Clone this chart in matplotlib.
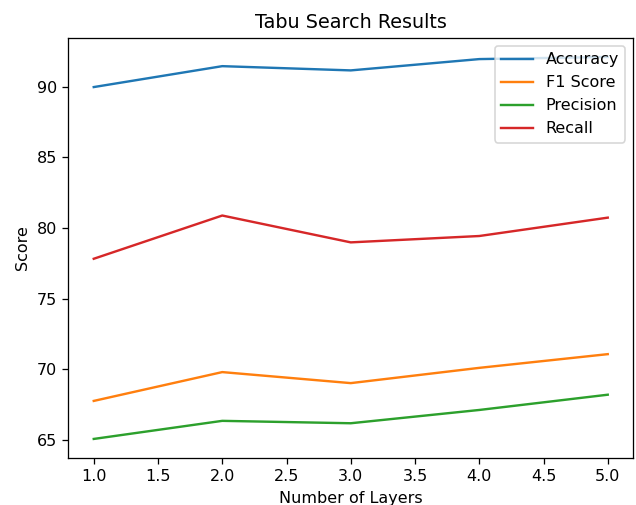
import matplotlib
matplotlib.use("Agg")
import matplotlib.pyplot as plt

layers = [1, 2, 3, 4, 5]
accuracy = [89.97, 91.45, 91.15, 91.95, 92.1]
f1_score = [67.76, 69.8, 69.02, 70.1, 71.07]
precision = [65.07, 66.35, 66.18, 67.12, 68.2]
recall = [77.82, 80.88, 78.98, 79.43, 80.73]

DPI = 115
fig, ax = plt.subplots(figsize=(636 / DPI, 505 / DPI), dpi=DPI)
fig.subplots_adjust(left=0.107, right=0.996, top=0.925, bottom=0.093)

ax.plot(layers, accuracy, label="Accuracy")
ax.plot(layers, f1_score, label="F1 Score")
ax.plot(layers, precision, label="Precision")
ax.plot(layers, recall, label="Recall")

ax.set_title("Tabu Search Results")
ax.set_xlabel("Number of Layers")
ax.set_ylabel("Score")
ax.legend(loc="upper right")

fig.savefig("out.png", dpi=DPI)
plt.close(fig)
